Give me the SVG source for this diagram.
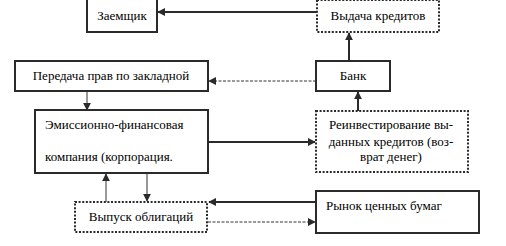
<svg xmlns="http://www.w3.org/2000/svg" width="506" height="246" viewBox="0 0 506 246">
<style>
.solid{fill:#fff;stroke:#2a2a2a;stroke-width:2}
.dotted{fill:#fff;stroke:#2a2a2a;stroke-width:2;stroke-dasharray:2 1.6}
.c{text-anchor:middle}
.thick{stroke:#2a2a2a;stroke-width:2;fill:none}
.thin{stroke:#333;stroke-width:1;fill:none}
.dash{stroke:#333;stroke-width:1;fill:none;stroke-dasharray:3 1.5}
</style>
<defs>
<marker id="ah" viewBox="0 0 10 10" refX="9" refY="5" markerWidth="8" markerHeight="8" markerUnits="userSpaceOnUse" orient="auto">
<path d="M0,0 L10,5 L0,10 z" fill="#2a2a2a"/>
</marker>
</defs>
<rect width="506" height="246" fill="#fff"/>
<g id="connectors">
<line class="thick" x1="317" y1="12" x2="158" y2="12" marker-end="url(#ah)"/>
<line class="thick" x1="349" y1="61" x2="349" y2="33" marker-end="url(#ah)"/>
<line class="dash" x1="316" y1="81" x2="209" y2="81" marker-end="url(#ah)"/>
<line class="thin" x1="87" y1="91" x2="87" y2="110" marker-end="url(#ah)"/>
<line class="thick" x1="358" y1="111" x2="358" y2="92" marker-end="url(#ah)"/>
<line class="thick" x1="208" y1="142" x2="315" y2="142" marker-end="url(#ah)"/>
<line class="thin" x1="106" y1="202" x2="106" y2="174" marker-end="url(#ah)"/>
<line class="thin" x1="147" y1="173" x2="147" y2="201" marker-end="url(#ah)"/>
<line class="thick" x1="316" y1="202" x2="209" y2="202" marker-end="url(#ah)"/>
<line class="dash" x1="208" y1="222" x2="315" y2="222" marker-end="url(#ah)"/>
</g>
<g id="zaemshik">
<rect class="solid" x="87" y="-1" width="70" height="33"/>
<text class="c" x="122" y="20" font-size="13" font-family="Liberation Serif, serif" style="font-family:Liberation Serif,serif">Заемщик</text>
</g>
<g id="vydacha">
<rect class="dotted" x="317" y="0" width="122" height="32"/>
<text class="c" x="378" y="20" font-size="13" font-family="Liberation Serif, serif" style="font-family:Liberation Serif,serif">Выдача кредитов</text>
</g>
<g id="peredacha">
<rect class="solid" x="15" y="61" width="193" height="30"/>
<text class="c" x="111" y="80" font-size="13" font-family="Liberation Serif, serif" style="font-family:Liberation Serif,serif">Передача прав по закладной</text>
</g>
<g id="bank">
<rect class="solid" x="316" y="61" width="74" height="30"/>
<text class="c" x="353" y="80" font-size="13" font-family="Liberation Serif, serif" style="font-family:Liberation Serif,serif">Банк</text>
</g>
<g id="emission">
<rect class="solid" x="35" y="110" width="173" height="63"/>
<text x="45" y="129" font-size="13" font-family="Liberation Serif, serif" style="font-family:Liberation Serif,serif">Эмиссионно-финансовая</text>
<text x="45" y="161" font-size="13" font-family="Liberation Serif, serif" style="font-family:Liberation Serif,serif">компания (корпорация.</text>
</g>
<g id="reinvest">
<rect class="dotted" x="316" y="111" width="152" height="61"/>
<text class="c" x="391" y="129" font-size="13" font-family="Liberation Serif, serif" style="font-family:Liberation Serif,serif">Реинвестирование вы-</text>
<text class="c" x="391" y="146" font-size="13" font-family="Liberation Serif, serif" style="font-family:Liberation Serif,serif">данных кредитов (воз-</text>
<text class="c" x="391" y="161" font-size="13" font-family="Liberation Serif, serif" style="font-family:Liberation Serif,serif">врат денег)</text>
</g>
<g id="vypusk">
<rect class="dotted" x="75" y="202" width="132" height="30"/>
<text class="c" x="141" y="221" font-size="13" font-family="Liberation Serif, serif" style="font-family:Liberation Serif,serif">Выпуск облигаций</text>
</g>
<g id="rynok">
<rect class="solid" x="316" y="191" width="163" height="42"/>
<text x="326" y="210" font-size="13" font-family="Liberation Serif, serif" style="font-family:Liberation Serif,serif">Рынок ценных бумаг</text>
</g>
</svg>
